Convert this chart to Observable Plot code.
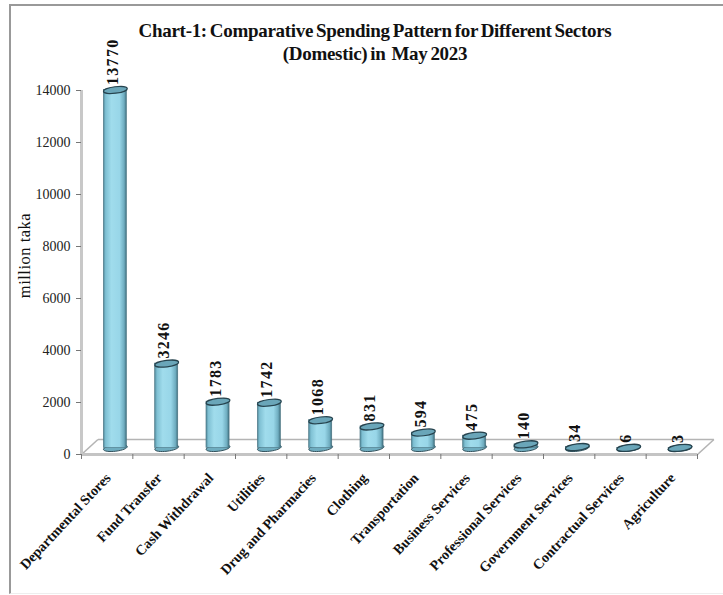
<!DOCTYPE html>
<html>
<head>
<meta charset="utf-8">
<script src="https://cdn.jsdelivr.net/npm/d3@7"></script>
<script src="https://cdn.jsdelivr.net/npm/@observablehq/plot@0.6"></script>
<style>
  html, body { margin: 0; padding: 0; background: #fff; }
  #page { position: relative; width: 723px; height: 595px; overflow: hidden; font-family: "Liberation Serif", serif; }
  #frame { position: absolute; left: 9px; top: 4px; width: 730px; height: 590px; border-top: 2px solid #999; border-left: 2px solid #999; border-bottom: 1px solid #eee; box-sizing: border-box; pointer-events: none; }
  #title { position: absolute; left: 0; top: 19px; width: 750px; text-align: center; font-weight: bold; font-size: 19px; line-height: 23px; color: #111; word-spacing: -1.5px; letter-spacing: -0.3px; }
  #chart { position: absolute; left: 0; top: 0; }
  .value-label { letter-spacing: 1.3px; }
  .unit-label { letter-spacing: 0.5px; }
</style>
</head>
<body>
<div id="page">
  <div id="chart"></div>
  <div id="frame"></div>
  <div id="title">Chart-1: Comparative Spending Pattern for Different Sectors<br>(Domestic) in&nbsp; May 2023</div>
</div>
<script>
const sectors = ["Departmental Stores", "Fund Transfer", "Cash Withdrawal", "Utilities", "Drug and Pharmacies", "Clothing", "Transportation", "Business Services", "Professional Services", "Government Services", "Contractual Services", "Agriculture"];
const spending = [13770, 3246, 1783, 1742, 1068, 831, 594, 475, 140, 34, 6, 3];
const valueTicks = [0, 2000, 4000, 6000, 8000, 10000, 12000, 14000];

const rows = sectors.map((sector, i) => ({sector, i, value: spending[i]}));

// Depth of the pseudo-3D floor, in data units of each axis.
const depthX = 0.32;
const depthY = 577;
const n = sectors.length;
const floorEdges = [
  {x1: 0, y1: 0, x2: depthX, y2: depthY},
  {x1: n, y1: 0, x2: n + depthX, y2: depthY},
  {x1: depthX, y1: depthY, x2: n + depthX, y2: depthY}
];

// Cylinder end cap: a slightly tilted ellipse used as a dot symbol.
const tiltedEllipse = {
  draw(ctx, size) {
    const rx = Math.sqrt(size / Math.PI), ry = rx * 0.27;
    const a = -7 * Math.PI / 180, c = Math.cos(a), s = Math.sin(a), k = 0.5523;
    const pt = (u, v) => [u * c - v * s, u * s + v * c];
    const seg = (p1, p2, p3) => ctx.bezierCurveTo(...pt(...p1), ...pt(...p2), ...pt(...p3));
    ctx.moveTo(...pt(rx, 0));
    seg([rx, ry * k], [rx * k, ry], [0, ry]);
    seg([-rx * k, ry], [-rx, ry * k], [-rx, 0]);
    seg([-rx, -ry * k], [-rx * k, -ry], [0, -ry]);
    seg([rx * k, -ry], [rx, -ry * k], [rx, 0]);
    ctx.closePath();
  }
};

const barDx = 8.2, barDy = -6.5, halfWidth = 0.225;

const gradient = () => {
  const svg = d3.create("svg:defs");
  const g = svg.append("linearGradient").attr("id", "cyl").attr("x1", 0).attr("x2", 1).attr("y1", 0).attr("y2", 0);
  [[0, "#4f8798"], [0.1, "#7fc0d3"], [0.35, "#a0dcec"], [0.7, "#98d6e8"], [0.9, "#6fadc0"], [1, "#3f6e7d"]]
    .forEach(([o, c]) => g.append("stop").attr("offset", o).attr("stop-color", c));
  return svg.node();
};

const common = {dx: barDx, dy: barDy};
const chart = Plot.plot({
  width: 723,
  height: 595,
  marginLeft: 81,
  marginRight: 26,
  marginTop: 90,
  marginBottom: 141,
  style: {fontFamily: "'Liberation Serif', serif", background: "transparent"},
  x: {domain: [0, n], axis: null},
  y: {domain: [0, 14000], axis: null},
  marks: [
    gradient,
    // floor of the chart
    Plot.link(floorEdges, {x1: "x1", y1: "y1", x2: "x2", y2: "y2", stroke: "#b4b4b4", strokeWidth: 1.6}),
    Plot.ruleY([0], {x1: 0, x2: n, stroke: "#c4c4c4", strokeWidth: 3}),
    Plot.ruleX([0], {y1: 0, y2: 14000, stroke: "#c8c8c8", strokeWidth: 3}),
    // axes
    Plot.axisY({ticks: valueTicks, tickSize: 5, tickPadding: 6, tickFormat: d => String(d), fontSize: 14, color: "#222", stroke: "#777", label: null}),
    Plot.axisX({ticks: d3.range(n + 1), tickSize: 5, tickFormat: () => "", stroke: "#777", label: null}),
    Plot.text(["million taka"], {frameAnchor: "left", textAnchor: "middle", dx: -57, dy: -17, rotate: -90, fontSize: 16.5, fill: "#111", text: d => d, className: "unit-label"}),
    // cylinders
    Plot.dot(rows, {x: d => d.i + 0.5, y: 0, r: 12, symbol: tiltedEllipse, fill: "#6fadc0", stroke: "#33525d", strokeWidth: 1, ...common}),
    Plot.rectY(rows, {x1: d => d.i + 0.5 - halfWidth, x2: d => d.i + 0.5 + halfWidth, y: "value", fill: "url(#cyl)", stroke: "#4a7482", strokeWidth: 0.6, ...common}),
    Plot.dot(rows, {x: d => d.i + 0.5, y: "value", r: 12, symbol: tiltedEllipse, fill: "#6aa6b9", stroke: "#26434e", strokeWidth: 1.2, ...common}),
    // value labels
    Plot.text(rows, {x: d => d.i + 0.5, y: "value", text: d => String(d.value), rotate: -90, textAnchor: "start", lineAnchor: "middle", fontSize: 16, fontWeight: "bold", fill: "#111", dx: barDx - 2.5, dy: barDy - 5, className: "value-label"}),
    // category labels
    Plot.text(rows, {x: d => d.i + 0.5, y: 0, text: "sector", rotate: -47, textAnchor: "end", lineAnchor: "middle", fontSize: 14.2, fontWeight: "bold", fill: "#111", dx: 1, dy: 21})
  ]
});
document.getElementById("chart").append(chart);
</script>
</body>
</html>
